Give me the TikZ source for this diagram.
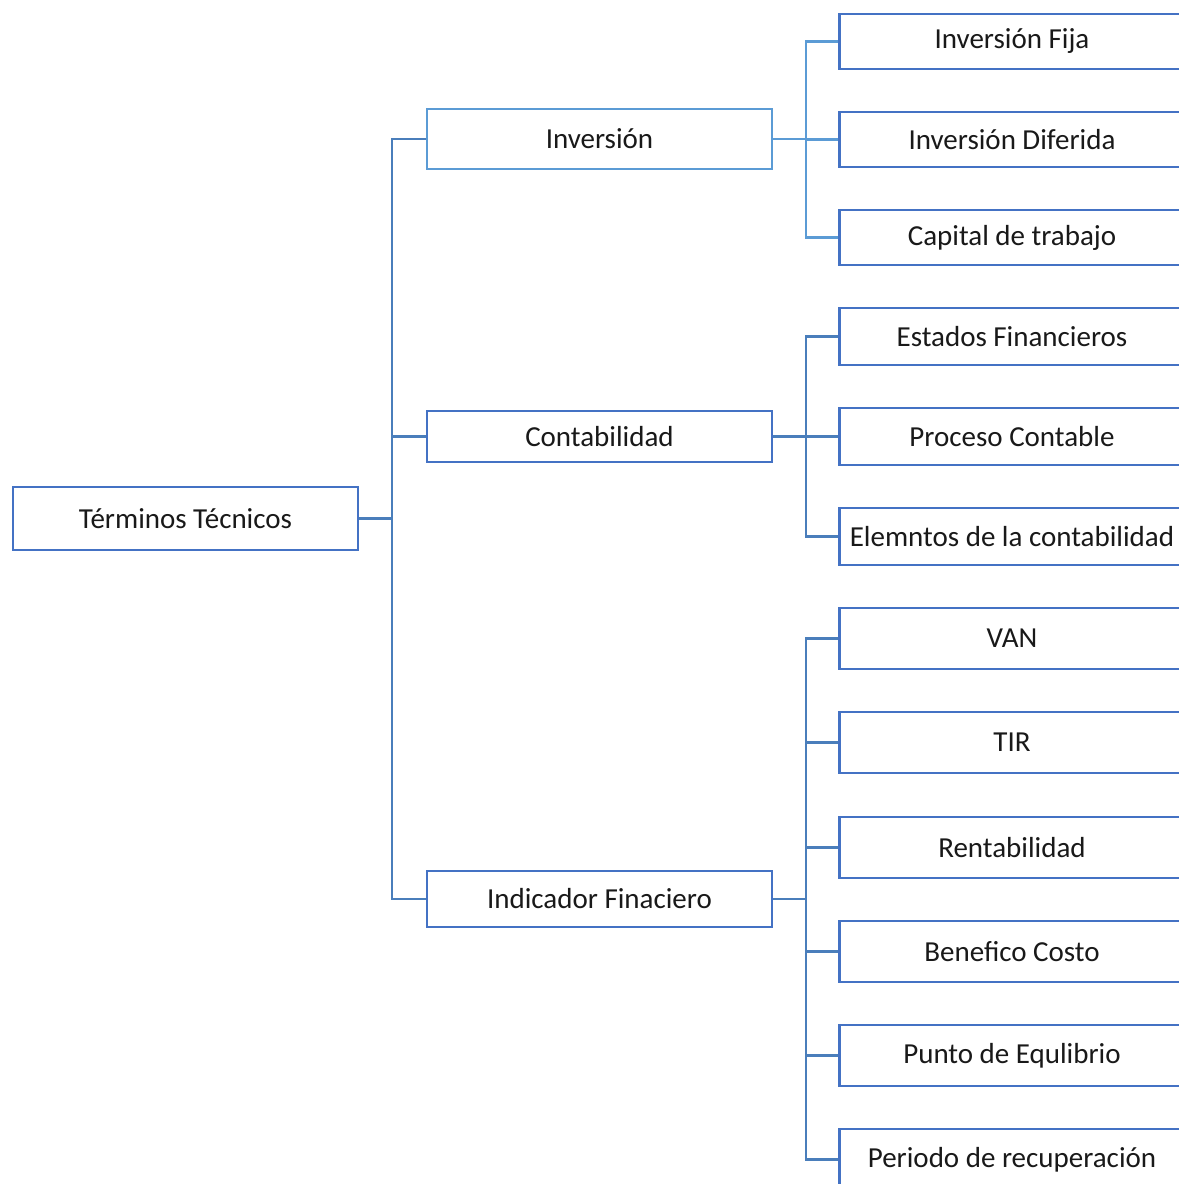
\documentclass[tikz,border=0pt]{standalone}
\usepackage{fontspec}
\setmainfont{Carlito}
\definecolor{boxblue}{HTML}{4472C4}
\definecolor{lightblue}{HTML}{5B9BD5}
\definecolor{linkblue}{HTML}{4A7EBB}
\begin{document}
\begin{tikzpicture}[x=0.02cm,y=-0.02cm,
  term/.style={draw=boxblue,line width=1.4pt,fill=white,minimum width=345*0.02cm,
    minimum height=#1*0.02cm,inner sep=0pt,font=\fontsize{16.5}{19}\selectfont,text=black!90},
  term/.default=60,
  link/.style={draw=linkblue,line width=1.3pt},
  sublink/.style={draw=lightblue,line width=1.3pt}]
\useasboundingbox (0,0) rectangle (1179,1184);
\clip (0,0) rectangle (1179,1184);
% root and first level
\node[term=63] (root) at (185.5,518.5) {Términos Técnicos};
\node[term=60,draw=lightblue] (inv) at (599.5,139) {Inversión};
\node[term=51] (cont) at (599.5,436.5) {Contabilidad};
\node[term=56] (ind) at (599.5,899) {Indicador Finaciero};
% second level (boxes run past the right edge)
\node[term=55] (fija) at (1012,41.5) {Inversión Fija};
\node[term=55] (dif) at (1012,139.5) {Inversión Diferida};
\node[term=55] (cap) at (1012,237.5) {Capital de trabajo};
\node[term=57] (est) at (1012,336.5) {Estados Financieros};
\node[term=57] (proc) at (1012,436.5) {Proceso Contable};
\node[term=57] (elem) at (1012,536.5) {Elemntos de la contabilidad};
\node[term=61] (van) at (1012,638.5) {VAN};
\node[term=61] (tir) at (1012,742.5) {TIR};
\node[term=61] (rent) at (1012,847.5) {Rentabilidad};
\node[term=61] (ben) at (1012,951.5) {Benefico Costo};
\node[term=61] (pun) at (1012,1055.5) {Punto de Equlibrio};
\node[term=61] (per) at (1012,1159.5) {Periodo de recuperación};
% connectors
\coordinate (trunk) at (392,0);
\coordinate (b1) at (806,0);
\path[link] (root.east) -- (root.east -| trunk);
\foreach \t in {inv,cont,ind}
  \path[link] (root.east -| trunk) |- (\t.west);
\path[sublink] (inv.east) -- (inv.east -| b1);
\foreach \t in {fija,dif,cap}
  \path[sublink] (inv.east -| b1) |- (\t.west);
\path[link] (cont.east) -- (cont.east -| b1);
\foreach \t in {est,proc,elem}
  \path[link] (cont.east -| b1) |- (\t.west);
\path[link] (ind.east) -- (ind.east -| b1);
\foreach \t in {van,tir,rent,ben,pun,per}
  \path[link] (ind.east -| b1) |- (\t.west);
\end{tikzpicture}
\end{document}
